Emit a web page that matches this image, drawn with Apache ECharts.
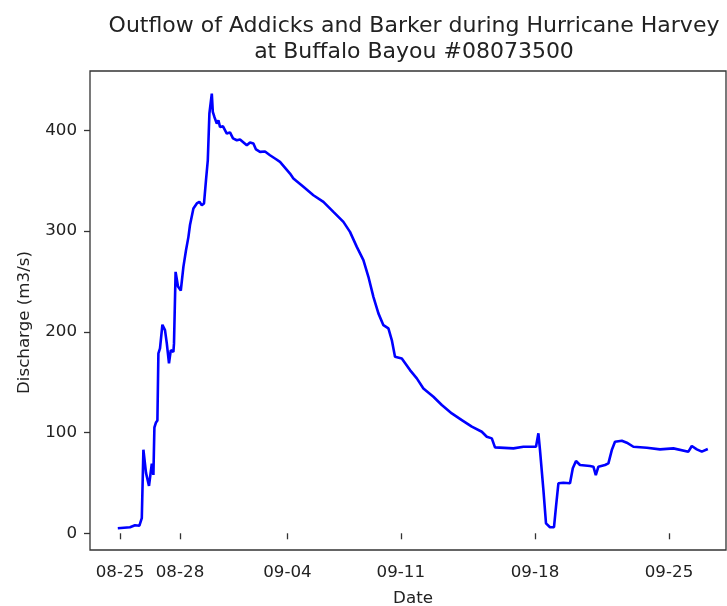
<!DOCTYPE html>
<html>
<head>
<meta charset="utf-8">
<script src="https://cdn.jsdelivr.net/npm/echarts@6/dist/echarts.min.js"></script>
<style>
  html, body { margin: 0; padding: 0; background: #fff; }
  #chart { width: 727px; height: 606px; }
</style>
</head>
<body>
<div id="chart"></div>
<script>
// Observation index (row number in the gauge record) and discharge in m3/s
const obsIndex = [139, 200, 225, 247, 259, 267, 280, 295, 309, 317, 322, 330, 337, 342,
  350, 362, 375, 384, 395, 404, 417, 420, 428, 440, 454, 467, 480, 492, 500,
  517, 534, 547, 559, 570, 580, 589, 597, 609, 614, 622, 634, 642, 650, 665, 684, 700, 715, 734,
  750, 784, 800, 817, 830, 850, 875, 900, 925, 950, 1000, 1017, 1067, 1117, 1167, 1217, 1267, 1300, 1334,
  1367, 1392, 1417, 1442, 1467, 1492, 1509, 1525, 1559, 1600, 1634, 1667, 1717,
  1759, 1809, 1859, 1909, 1959, 1984, 2009, 2025, 2117, 2167, 2230, 2242, 2250,
  2267, 2280, 2300, 2320, 2330, 2342, 2367, 2400, 2414, 2430, 2450, 2500, 2517,
  2529, 2542, 2575, 2592, 2609, 2625, 2659, 2684, 2717, 2784, 2850, 2917, 2992,
  3009, 3034, 3059, 3089];
const discharge = [5.0, 6, 8, 7.5, 15, 83, 60, 47, 69, 58, 105, 110, 112, 178.6,
  183.5, 207, 201.7, 188.5, 168.7, 181.8, 180, 188.5, 259.5, 245, 241, 264.5, 281, 294, 306,
  322.4, 327.4, 329, 325.7, 327.4, 350.5, 370.3, 416.7, 436.5, 418.3, 413.3, 406.7, 410, 403.4, 404, 396.8, 398, 392, 390.2,
  391, 385.2, 388, 386.9, 381, 378.6, 379, 375.3, 372, 368.7, 357.1, 352.2, 343.9, 335.6, 329, 319, 309.1, 299.2, 284.3,
  271.1, 254.6, 234.7, 218.3, 206.6, 203.4, 191.8, 175.2, 173.6, 162, 153.8, 143.8, 135.5,
  127.3, 119, 112.4, 105.8, 100.8, 95.8, 94.2, 85.3, 84.3, 85.9, 85.9, 99.2, 82.6,
  43, 9.9, 6, 6, 26.4, 49.6, 50.2, 49.6, 64.5, 71.7, 67.8, 66.8, 66.1,
  57.8, 66.1, 67.8, 69.4, 82.6, 90.9, 91.9, 89.9, 85.9, 84.9, 83.3, 84.3, 81,
  86.6, 83.3, 81, 83.6];

// Date tick labels and the observation index at which each falls
const tickIndex = [150, 450, 987, 1554, 2225, 2895];
const tickLabels = ['08-25', '08-28', '09-04', '09-11', '09-18', '09-25'];
const yTicks = [0, 100, 200, 300, 400];

const titleText = 'Outflow of Addicks and Barker during Hurricane Harvey\nat Buffalo Bayou #08073500';

const seriesData = obsIndex.map((x, i) => [x, discharge[i]]);
const FONT = 'DejaVu Sans';
const INK = '#222';

const chart = echarts.init(document.getElementById('chart'), null, { renderer: 'canvas' });
chart.setOption({
  animation: false,
  backgroundColor: '#fff',
  title: {
    text: titleText,
    left: 414,
    top: 13,
    padding: 0,
    textAlign: 'center',
    textStyle: { fontFamily: FONT, fontSize: 22, fontWeight: 'normal', color: INK, lineHeight: 26 }
  },
  grid: {
    left: 90, top: 71, width: 636, height: 479,
    outerBoundsMode: 'none',
    containLabel: false,
    show: true, borderColor: '#333', borderWidth: 1.3, backgroundColor: '#fff'
  },
  xAxis: {
    type: 'value',
    min: 0, max: 3180,
    name: 'Date',
    nameLocation: 'middle',
    nameGap: 40,
    nameTextStyle: { fontFamily: FONT, fontSize: 16.7, color: INK, padding: [0, 0, 0, 10] },
    axisLine: { show: false },
    splitLine: { show: false },
    axisTick: { show: true, inside: false, length: 6, customValues: tickIndex, lineStyle: { color: '#333', width: 1.3 } },
    axisLabel: {
      customValues: tickIndex,
      margin: 14,
      fontFamily: FONT, fontSize: 16.7, color: INK,
      formatter: v => { const k = tickIndex.indexOf(v); return k >= 0 ? tickLabels[k] : ''; }
    }
  },
  yAxis: {
    type: 'value',
    min: -16.6, max: 458.9,
    name: 'Discharge (m3/s)',
    nameLocation: 'middle',
    nameGap: 57,
    nameRotate: 90,
    nameTextStyle: { fontFamily: FONT, fontSize: 16.7, color: INK, padding: [0, 24, 0, 0] },
    axisLine: { show: false },
    splitLine: { show: false },
    axisTick: { show: true, inside: false, length: 6, customValues: yTicks, lineStyle: { color: '#333', width: 1.3 } },
    axisLabel: { customValues: yTicks, margin: 13, fontFamily: FONT, fontSize: 16.7, color: INK }
  },
  series: [{
    type: 'line',
    data: seriesData,
    showSymbol: false,
    symbol: 'none',
    lineStyle: { color: '#0000ff', width: 2.6 },
    clip: true
  }]
});
</script>
</body>
</html>
